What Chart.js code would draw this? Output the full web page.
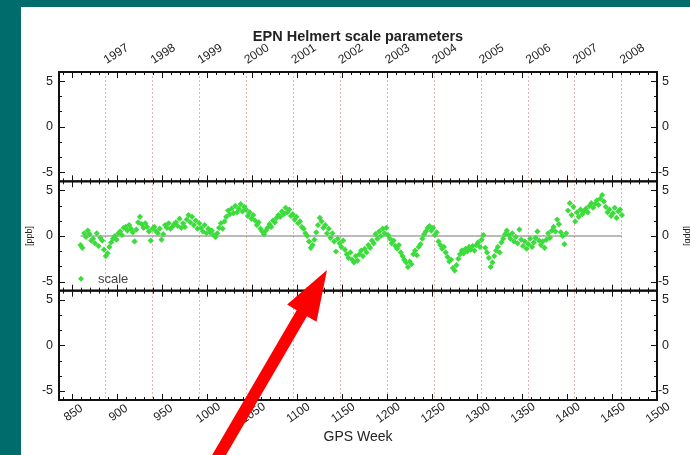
<!DOCTYPE html>
<html>
<head>
<meta charset="utf-8">
<script src="https://cdn.jsdelivr.net/npm/chart.js@4.4.1/dist/chart.umd.min.js"></script>
<style>
  html, body { margin: 0; padding: 0; overflow: hidden; background: #006d6d; }
  #sheet { position: absolute; left: 21px; top: 7px; width: 669px; height: 448px; background: #fff; }
  #canvas { position: absolute; left: 0; top: 0; }
</style>
</head>
<body>
<div id="sheet"></div>
<canvas id="canvas" width="690" height="455"></canvas>
<script>
const FONT = '"Liberation Sans", Arial, Helvetica, sans-serif';

// GPS weeks of the plotted scale values
const weeks = [
   859,  861,  863,  865,  867,  869,  871,  873,  875,  877,
   879,  881,  883,  885,  887,  889,  891,  893,  895,  897,
   899,  901,  903,  905,  907,  909,  911,  913,  915,  917,
   919,  921,  923,  925,  927,  929,  931,  933,  935,  937,
   939,  941,  943,  945,  947,  949,  951,  953,  955,  957,
   959,  961,  963,  965,  967,  969,  971,  973,  975,  977,
   979,  981,  983,  985,  987,  989,  991,  993,  995,  997,
   999, 1001, 1003, 1005, 1007, 1009, 1011, 1013, 1015, 1017,
  1019, 1021, 1023, 1025, 1027, 1029, 1031, 1033, 1035, 1037,
  1039, 1041, 1043, 1045, 1047, 1049, 1051, 1053, 1055, 1057,
  1059, 1061, 1063, 1065, 1067, 1069, 1071, 1073, 1075, 1077,
  1079, 1081, 1083, 1085, 1087, 1089, 1091, 1093, 1095, 1097,
  1099, 1101, 1103, 1105, 1107, 1109, 1111, 1113, 1115, 1117,
  1119, 1121, 1123, 1125, 1127, 1129, 1131, 1133, 1135, 1137,
  1139, 1141, 1143, 1145, 1147, 1149, 1151, 1153, 1155, 1157,
  1159, 1161, 1163, 1165, 1167, 1169, 1171, 1173, 1175, 1177,
  1179, 1181, 1183, 1185, 1187, 1189, 1191, 1193, 1195, 1197,
  1199, 1201, 1203, 1205, 1207, 1209, 1211, 1213, 1215, 1217,
  1219, 1221, 1223, 1225, 1227, 1229, 1231, 1233, 1235, 1237,
  1239, 1241, 1243, 1245, 1247, 1249, 1251, 1253, 1255, 1257,
  1259, 1261, 1263, 1265, 1267, 1269, 1271, 1273, 1275, 1277,
  1279, 1281, 1283, 1285, 1287, 1289, 1291, 1293, 1295, 1297,
  1299, 1301, 1303, 1305, 1307, 1309, 1311, 1313, 1315, 1317,
  1319, 1321, 1323, 1325, 1327, 1329, 1331, 1333, 1335, 1337,
  1339, 1341, 1343, 1345, 1347, 1349, 1351, 1353, 1355, 1357,
  1359, 1361, 1363, 1365, 1367, 1369, 1371, 1373, 1375, 1377,
  1379, 1381, 1383, 1385, 1387, 1389, 1391, 1393, 1395, 1397,
  1399, 1401, 1403, 1405, 1407, 1409, 1411, 1413, 1415, 1417,
  1419, 1421, 1423, 1425, 1427, 1429, 1431, 1433, 1435, 1437,
  1439, 1441, 1443, 1445, 1447, 1449, 1451, 1453, 1455, 1457,
  1459, 1461
];

// Helmert scale [ppb]
const scale = [
  -1.0, -1.3,  0.3, -0.1,  0.6,  0.2, -0.5, -0.3, -0.8,  0.3,
  -1.1, -0.2, -0.5, -1.5, -2.2, -1.9, -1.2, -0.7, -0.3,  0.0,
  -0.4,  0.3,  0.5,  0.1,  0.9,  1.0,  0.6,  1.2,  0.8,  0.4,
  -0.6,  0.7,  1.5,  2.1,  1.3,  0.9,  1.4,  1.0,  0.5, -0.5,
   0.8,  1.0,  0.5,  0.3,  0.8, -0.4,  0.2,  1.2,  0.9,  1.4,
   0.8,  1.0,  1.3,  1.5,  1.1,  1.9,  0.9,  1.4,  1.0,  1.8,
   2.3,  1.5,  2.1,  1.2,  1.7,  0.8,  1.4,  0.9,  0.5,  1.2,
   0.3,  0.8,  0.4,  0.6,  0.1, -0.1,  0.3,  0.9,  1.4,  0.8,
   1.6,  2.1,  2.8,  2.4,  3.0,  2.5,  3.3,  2.6,  3.0,  3.5,
   2.7,  3.2,  2.9,  2.2,  2.6,  1.9,  2.3,  1.7,  1.2,  1.5,
   0.8,  0.5,  0.2,  0.6,  0.9,  1.3,  1.0,  1.7,  1.5,  2.0,
   2.3,  2.1,  2.7,  2.4,  3.1,  2.6,  2.9,  2.2,  2.4,  1.8,
   2.1,  1.4,  1.6,  1.0,  0.8,  0.3,  0.0, -0.6, -1.3, -1.0,
  -0.4,  0.4,  1.2,  2.0,  1.6,  0.9,  1.2,  0.3,  0.8, -0.2,
   0.3, -0.6, -1.7, -0.3, -0.8, -1.2, -0.5, -1.5, -2.0, -2.4,
  -1.8, -2.6, -2.9, -2.2, -2.7, -2.0, -1.6, -2.2, -1.4, -1.8,
  -1.0, -1.3, -0.5, -0.8,  0.2, -0.3,  0.5,  0.0,  0.8,  0.3,
   0.9,  0.1, -0.3, -0.8, -0.5, -1.1, -1.4, -1.0, -1.8, -2.2,
  -2.6, -2.9, -3.4, -2.8, -3.1, -2.0, -1.6, -2.1, -1.2, -0.9,
  -0.3,  0.2,  0.5,  0.9,  1.1,  0.6,  0.9,  0.1,  0.4, -0.6,
  -1.0, -1.4, -1.2, -1.8, -2.3, -2.8, -2.6, -3.5, -3.8, -3.2,
  -2.5, -2.0, -1.6, -1.9, -1.4, -1.7, -1.2, -1.5, -1.1, -1.6,
  -1.0, -0.7, -1.2, -0.4,  0.1, -1.3, -1.8, -2.4, -3.4, -2.9,
  -2.2, -1.6, -1.2, -1.8, -0.7, -0.3,  0.2,  0.6,  0.1, -0.3,
   0.3, -0.6, -0.1, -0.8,  0.7, -0.4, -1.1, -0.6, -1.4, -0.9,
  -0.3, -1.2, -0.7, -0.2,  0.5, -0.5, -1.0, -0.6, -1.3, -0.4,
   0.3, -0.2,  0.6,  1.0,  0.5,  1.8,  1.3,  0.4,  0.0, -0.9,
   0.3,  2.8,  3.6,  2.3,  3.2,  1.6,  2.6,  2.1,  2.9,  2.4,
   2.7,  3.0,  2.6,  3.3,  3.6,  3.1,  3.5,  3.9,  3.4,  4.1,
   4.5,  3.8,  3.2,  2.6,  2.9,  2.2,  2.5,  3.1,  2.0,  2.7,
   2.9,  2.3
];

// year boundaries (GPS week of 1 January) and their labels on the top axis
const years = ['1997','1998','1999','2000','2001','2002','2003','2004','2005','2006','2007','2008'];
const yearStarts = [886.43, 938.57, 990.71, 1042.86, 1095.14, 1147.29, 1199.43, 1251.57, 1303.86, 1356.0, 1408.14, 1460.29];

const xTicks = [850, 900, 950, 1000, 1050, 1100, 1150, 1200, 1250, 1300, 1350, 1400, 1450, 1500];
const yTicks = [5, 0, -5];
const yTickLabels = ['5', '0', '-5'];
const yMinor = [10 / 3, 5 / 3, -5 / 3, -10 / 3];
const panels = ['yTop', 'yMid', 'yBot'];

const canvas = document.getElementById('canvas');
const ctx = canvas.getContext('2d');

// frames, ticks and all texts, IDL style
const helmertFrame = {
    id: 'helmertFrame',
    beforeDatasetsDraw(chart) {
        const { ctx, chartArea: { top, bottom }, scales: { x } } = chart;
        ctx.save();
        ctx.strokeStyle = 'rgba(210,130,130,0.6)';
        ctx.lineWidth = 1;
        ctx.setLineDash([2, 2]);
        yearStarts.forEach(w => {
            const px = Math.round(x.getPixelForValue(w)) + 0.5;
            ctx.beginPath();
            ctx.moveTo(px, top);
            ctx.lineTo(px, bottom);
            ctx.stroke();
        });
        ctx.restore();
    },
    afterDatasetsDraw(chart) {
        const { ctx, scales } = chart;
        const x = scales.x;
        ctx.save();
        ctx.strokeStyle = '#111';
        ctx.fillStyle = '#222';

        panels.forEach(id => {
            const y = scales[id];
            const top = y.getPixelForValue(6);
            const bot = y.getPixelForValue(-6);
            ctx.lineWidth = 1;
            ctx.beginPath();
            for (let w = 840; w <= 1500; w += 10) {
                const px = Math.round(x.getPixelForValue(w)) + 0.5;
                const len = xTicks.includes(w) ? 6 : 3;
                ctx.moveTo(px, top); ctx.lineTo(px, top + len);
                ctx.moveTo(px, bot); ctx.lineTo(px, bot - len);
            }
            yTicks.concat(yMinor).forEach(v => {
                const py = Math.round(y.getPixelForValue(v)) + 0.5;
                const len = yTicks.includes(v) ? 6 : 3;
                ctx.moveTo(x.left, py); ctx.lineTo(x.left + len, py);
                ctx.moveTo(x.right, py); ctx.lineTo(x.right - len, py);
            });
            ctx.stroke();
            ctx.lineWidth = 2;
            ctx.strokeRect(x.left, top, x.right - x.left, bot - top);

            ctx.font = '12.5px ' + FONT;
            ctx.textBaseline = 'middle';
            ctx.textAlign = 'right';
            yTicks.forEach((v, i) => {
                const py = y.getPixelForValue(v);
                ctx.fillText(yTickLabels[i], x.left - 6, py);
                ctx.fillText(yTickLabels[i], x.right + 12, py);
            });
        });

        // years on top, rotated
        ctx.font = '12px ' + FONT;
        ctx.textAlign = 'center';
        years.forEach((yr, i) => {
            ctx.save();
            ctx.translate(x.getPixelForValue(yearStarts[i]) + 11, 54);
            ctx.rotate(-33 * Math.PI / 180);
            ctx.fillText(yr, 0, 0);
            ctx.restore();
        });

        // GPS week labels at the bottom, rotated
        const yb = scales.yBot.getPixelForValue(-6);
        xTicks.forEach(w => {
            ctx.save();
            ctx.translate(x.getPixelForValue(w) + 1, yb + 13);
            ctx.rotate(-35 * Math.PI / 180);
            ctx.fillText(String(w), 0, 0);
            ctx.restore();
        });

        const cx = (x.left + x.right) / 2;
        ctx.font = '14px ' + FONT;
        ctx.fillText('GPS Week', cx, 437);
        ctx.font = 'bold 14.5px ' + FONT;
        ctx.fillText('EPN Helmert scale parameters', cx, 37);

        // [ppb] on both sides of the middle panel
        const ym = scales.yMid.getPixelForValue(0);
        ctx.font = '9px ' + FONT;
        ctx.save();
        ctx.translate(30, ym);
        ctx.rotate(-Math.PI / 2);
        ctx.fillText('[ppb]', 0, 0);
        ctx.restore();
        ctx.save();
        ctx.translate(687, ym);
        ctx.rotate(Math.PI / 2);
        ctx.fillText('[ppb]', 0, 0);
        ctx.restore();

        // legend
        const ly = scales.yMid.getPixelForValue(-6) - 12;
        const lx = x.left + 22;
        ctx.fillStyle = '#3ddc3d';
        ctx.beginPath();
        ctx.moveTo(lx, ly - 3); ctx.lineTo(lx + 3, ly);
        ctx.lineTo(lx, ly + 3); ctx.lineTo(lx - 3, ly);
        ctx.closePath();
        ctx.fill();
        ctx.fillStyle = '#444';
        ctx.font = '13px ' + FONT;
        ctx.textAlign = 'left';
        ctx.fillText('scale', lx + 17, ly + 1);
        ctx.restore();
    },
    afterDraw(chart) {
        // the red arrow pasted over the figure
        const c = chart.ctx;
        const tip = [327, 270], base = [215, 462];
        const dx = tip[0] - base[0], dy = tip[1] - base[1];
        const L = Math.hypot(dx, dy), ux = dx / L, uy = dy / L;
        const nx = -uy, ny = ux;
        const headLen = 50, headW = 17, shaftW = 6;
        const hb = [tip[0] - ux * headLen, tip[1] - uy * headLen];
        c.save();
        c.fillStyle = '#ff0000';
        c.beginPath();
        c.moveTo(base[0] + nx * shaftW, base[1] + ny * shaftW);
        c.lineTo(hb[0] + nx * shaftW, hb[1] + ny * shaftW);
        c.lineTo(hb[0] + nx * headW, hb[1] + ny * headW);
        c.lineTo(tip[0], tip[1]);
        c.lineTo(hb[0] - nx * headW, hb[1] - ny * headW);
        c.lineTo(hb[0] - nx * shaftW, hb[1] - ny * shaftW);
        c.lineTo(base[0] - nx * shaftW, base[1] - ny * shaftW);
        c.closePath();
        c.fill();
        c.restore();
    }
};

const chart = new Chart(ctx, {
    type: 'scatter',
    data: {
        datasets: [{
            label: 'scale',
            data: weeks.map((w, i) => ({ x: w, y: scale[i] })),
            yAxisID: 'yMid',
            pointStyle: 'rectRot',
            pointRadius: 3.1,
            borderWidth: 0,
            backgroundColor: '#3ddc3d'
        }, {
            type: 'line',
            label: 'zero',
            data: [{ x: weeks[0], y: 0 }, { x: weeks[weeks.length - 1], y: 0 }],
            yAxisID: 'yMid',
            borderColor: '#767676',
            borderWidth: 1,
            pointRadius: 0
        }]
    },
    options: {
        responsive: false,
        animation: false,
        layout: { padding: { left: 59, right: 33, top: 72, bottom: 55 } },
        scales: {
            x: { type: 'linear', min: 835, max: 1500, display: false },
            // three stacked panels share one chart area, each one spans -6..6
            yTop: { type: 'linear', min: -30, max: 6, display: false },
            yMid: { type: 'linear', min: -18, max: 18, display: false },
            yBot: { type: 'linear', min: -6, max: 30, display: false }
        },
        plugins: { legend: { display: false }, tooltip: { enabled: false } }
    },
    plugins: [helmertFrame]
});
</script>
</body>
</html>
